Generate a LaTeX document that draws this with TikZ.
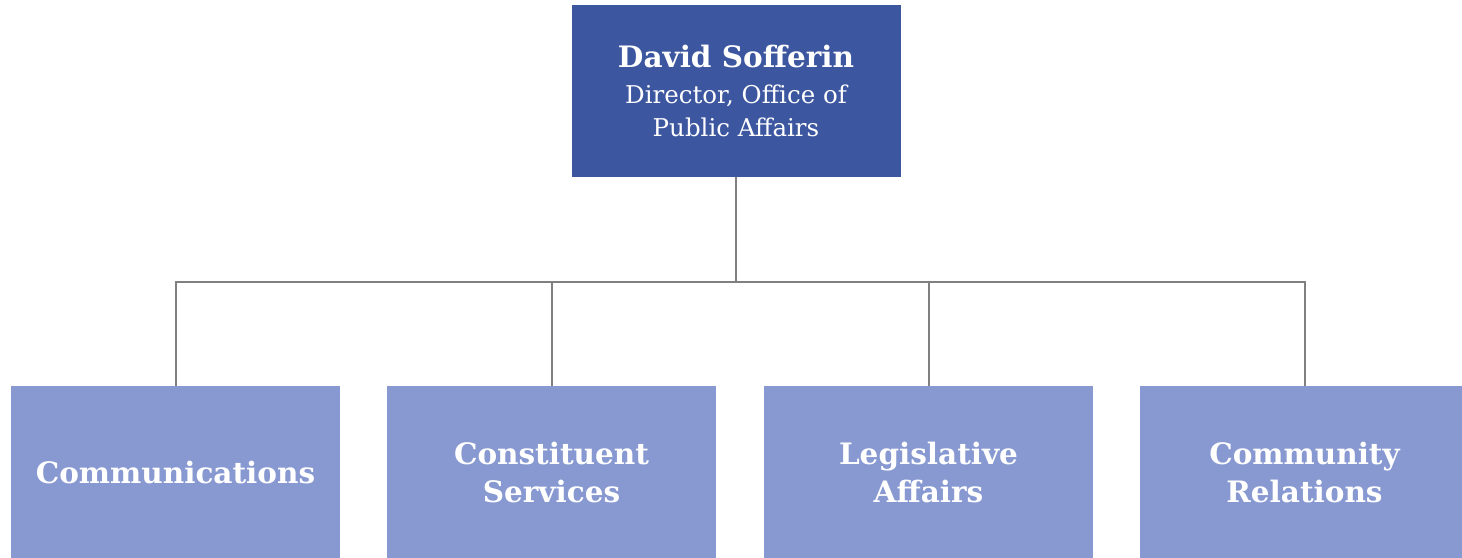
\documentclass[tikz,border=0pt]{standalone}
\usepackage{fontspec}
\setmainfont{DejaVu Serif}
\definecolor{topblue}{RGB}{60,86,160}
\definecolor{subblue}{RGB}{136,153,210}
\definecolor{linegray}{RGB}{128,128,128}
\begin{document}
\begin{tikzpicture}[x=1pt,y=-1pt,
  boxbase/.style={minimum width=329pt,minimum height=172pt,inner sep=0pt,align=center,text=white},
  headbox/.style={boxbase,fill=topblue,font=\fontsize{24.5}{33}\selectfont},
  unitbox/.style={boxbase,fill=subblue,font=\fontsize{29.5}{38}\selectfont\bfseries},
  link/.style={draw=linegray,line width=2pt}]
\useasboundingbox (0,0) rectangle (1462,557);
\begin{scope}
\clip (0,0) rectangle (1462,557);
\node[headbox] (head) at (736,91) {{\fontsize{29.5}{33}\selectfont\bfseries David Sofferin}\\[3pt]
  Director, Office of\\Public Affairs};
\node[unitbox] (u1) at (175.5,472) {Communications};
\node[unitbox] (u2) at (551.5,472) {Constituent\\Services};
\node[unitbox] (u3) at (928.5,472) {Legislative\\Affairs};
\node[unitbox] (u4) at (1304.5,472) {Community\\Relations};
\coordinate (bus) at (736,282);
\draw[link] (head.south) -- (bus);
\draw[link] (u1.north) |- (bus);
\draw[link] (u2.north) |- (bus);
\draw[link] (u3.north) |- (bus);
\draw[link] (u4.north) |- (bus);
\end{scope}
\end{tikzpicture}
\end{document}
